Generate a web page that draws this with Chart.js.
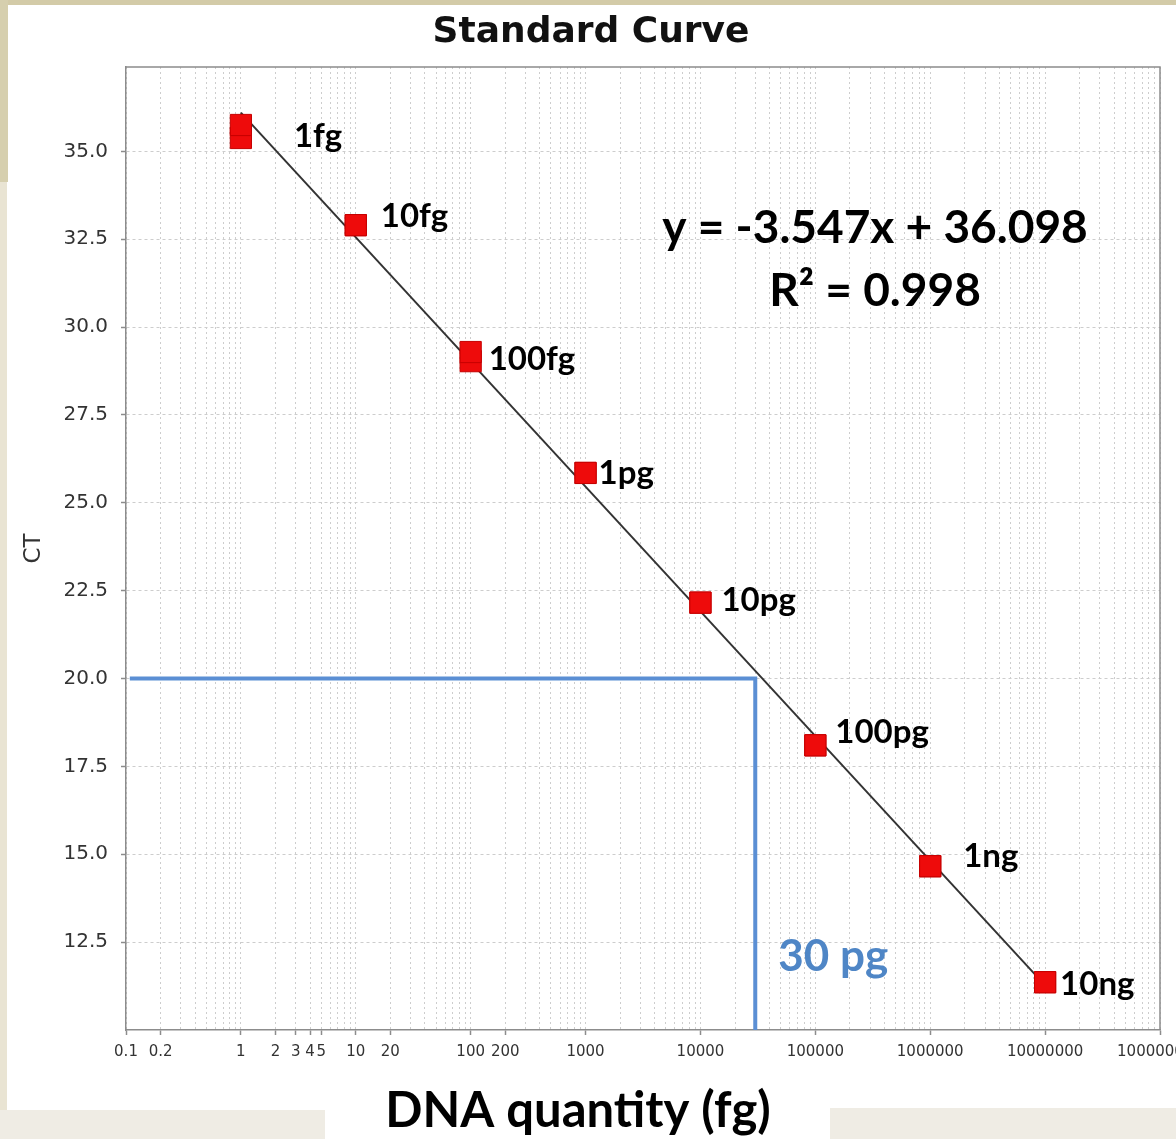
<!DOCTYPE html>
<html>
<head>
<meta charset="utf-8">
<title>Standard Curve</title>
<script src="https://cdn.jsdelivr.net/npm/chart.js@4.4.1/dist/chart.umd.min.js"></script>
<style>
    html, body { margin: 0; padding: 0; background: #fff; }
    #wrap { position: relative; width: 1176px; height: 1139px; overflow: hidden; background: #fff; }
    #wrap canvas { position: absolute; left: 0; top: 0; }
    .strip { position: absolute; pointer-events: none; }
</style>
</head>
<body>
<div id="wrap">
    <canvas id="standardCurveChart" width="1176" height="1139"></canvas>
    <div class="strip" style="left:0;top:0;width:1176px;height:5px;background:#d3cba8"></div>
    <div class="strip" style="left:0;top:0;width:8px;height:182px;background:#d6cfae"></div>
    <div class="strip" style="left:0;top:182px;width:7px;height:930px;background:#e9e4d3"></div>
    <div class="strip" style="left:0;top:1110px;width:325px;height:29px;background:#efece4"></div>
    <div class="strip" style="left:830px;top:1108px;width:346px;height:31px;background:#efece4"></div>
</div>
<script>
// DNA amount of each standard (fg) and its name
const standardQty = [1, 10, 100, 1000, 10000, 100000, 1000000, 10000000];
const standardNames = ["1fg", "10fg", "100fg", "1pg", "10pg", "100pg", "1ng", "10ng"];

// CT of the two replicates of every standard
const ctReplicateA = [35.75, 32.90, 29.29, 25.85, 22.16, 18.10, 14.66, 11.36];
const ctReplicateB = [35.38, 32.90, 29.03, 25.85, 22.16, 18.10, 14.66, 11.36];

// ends of the fitted line
const fitQty = [1, 10000000];
const fitCt = [36.10, 11.27];

// unknown sample
const unknownQty = 30000;
const unknownCt = 20.0;

// axes
const xMin = 0.1;
const xMax = 100000000;
const yMin = 10.0;
const yMax = 37.4;
const xTickLabels = [0.1, 0.2, 1, 2, 3, 4, 5, 10, 20, 100, 200, 1000, 10000,
    100000, 1000000, 10000000, 100000000];
const yTickValues = [12.5, 15.0, 17.5, 20.0, 22.5, 25.0, 27.5, 30.0, 32.5, 35.0];

// where each name sits next to its point (px)
const nameOffsets = [[53, 5], [25, -9], [18, 3], [13, 0], [21, -2], [20, -13], [33, -10], [15, 2]];

document.addEventListener("DOMContentLoaded", function () {
    const canvas = document.getElementById("standardCurveChart");

    // every 1..9 step of each decade gets a dotted grid line
    const minorValues = [];
    for (let e = -1; e <= 8; e++) {
        for (let m = 1; m <= 9; m++) {
            const v = parseFloat((m * Math.pow(10, e)).toPrecision(3));
            if (v >= xMin && v <= xMax) minorValues.push(v);
        }
    }

    const annotations = {
        id: "curveAnnotations",
        afterDatasetsDraw(chart) {
            const ctx = chart.ctx;
            const area = chart.chartArea;
            const xs = chart.scales.x;
            const ys = chart.scales.y;

            // top and right edge of the plot frame
            ctx.save();
            ctx.strokeStyle = "#8c8c8c";
            ctx.lineWidth = 1.5;
            ctx.beginPath();
            ctx.moveTo(area.left, area.top);
            ctx.lineTo(area.right, area.top);
            ctx.lineTo(area.right, area.bottom);
            ctx.stroke();

            // standard names
            ctx.font = "bold 33px Lato";
            ctx.fillStyle = "#000";
            ctx.textAlign = "left";
            ctx.textBaseline = "middle";
            standardNames.forEach((name, i) => {
                const px = xs.getPixelForValue(standardQty[i]);
                const py = ys.getPixelForValue((ctReplicateA[i] + ctReplicateB[i]) / 2);
                ctx.fillText(name, px + nameOffsets[i][0], py + nameOffsets[i][1]);
            });

            // regression equation
            ctx.font = "bold 46px Lato";
            ctx.textAlign = "center";
            ctx.fillText("y = -3.547x + 36.098", 875, 228);
            ctx.fillText("R\u00b2 = 0.998", 875, 291);

            // read-off value
            ctx.font = "bold 44px Lato";
            ctx.fillStyle = "#4f86c6";
            ctx.textAlign = "left";
            ctx.fillText("30 pg", xs.getPixelForValue(unknownQty) + 23, ys.getPixelForValue(12.07));
            ctx.restore();
        },
        afterDraw(chart) {
            const ctx = chart.ctx;
            ctx.save();
            ctx.font = "bold 49px Lato";
            ctx.fillStyle = "#000";
            ctx.textAlign = "center";
            ctx.textBaseline = "middle";
            ctx.fillText("DNA quantity (fg)", 578, 1111);
            ctx.restore();
        }
    };

    const standardStyle = {
        showLine: false,
        pointStyle: "rect",
        pointRadius: 15,
        pointHoverRadius: 15,
        pointBackgroundColor: "#ee0b0b",
        pointBorderColor: "#c60000",
        pointBorderWidth: 1,
        order: 1
    };

    new Chart(canvas, {
        type: "scatter",
        data: {
            datasets: [
                Object.assign({
                    label: "Replicate A",
                    data: standardQty.map((q, i) => ({ x: q, y: ctReplicateA[i] }))
                }, standardStyle),
                Object.assign({
                    label: "Replicate B",
                    data: standardQty.map((q, i) => ({ x: q, y: ctReplicateB[i] }))
                }, standardStyle),
                {
                    label: "Fit",
                    data: fitQty.map((q, i) => ({ x: q, y: fitCt[i] })),
                    showLine: true,
                    borderColor: "#333333",
                    borderWidth: 2,
                    pointRadius: 0,
                    order: 2
                },
                {
                    label: "Unknown",
                    data: [
                        { x: 0.108, y: unknownCt },
                        { x: unknownQty, y: unknownCt },
                        { x: unknownQty, y: yMin }
                    ],
                    showLine: true,
                    borderColor: "#5b8fd4",
                    borderWidth: 4,
                    borderJoinStyle: "miter",
                    pointRadius: 0,
                    order: 3
                }
            ]
        },
        options: {
            responsive: false,
            animation: false,
            devicePixelRatio: 1,
            layout: { padding: { left: 20, right: 14, top: 0, bottom: 0 } },
            plugins: {
                legend: { display: false },
                tooltip: { enabled: false },
                title: {
                    display: true,
                    text: "Standard Curve",
                    color: "#111",
                    font: { family: "DejaVu Sans", size: 36, weight: "bold" },
                    padding: { top: 11.4, bottom: 12.4 }
                }
            },
            scales: {
                x: {
                    type: "logarithmic",
                    min: xMin,
                    max: xMax,
                    afterBuildTicks: scale => {
                        scale.ticks = minorValues.map(v => ({ value: v }));
                    },
                    afterFit: scale => {
                        scale.height = 109;
                        scale.paddingLeft = 0;
                        scale.paddingRight = 0;
                    },
                    ticks: {
                        autoSkip: false,
                        maxRotation: 0,
                        minRotation: 0,
                        padding: 8,
                        color: "#333",
                        font: { family: "DejaVu Sans", size: 15 },
                        callback: value => xTickLabels.includes(value) ? String(value) : ""
                    },
                    grid: {
                        color: "#cdcdcd",
                        lineWidth: 1,
                        tickLength: 5,
                        tickWidth: 1.5,
                        tickColor: ctx => ctx.tick && xTickLabels.includes(ctx.tick.value)
                            ? "#8c8c8c" : "rgba(0,0,0,0)"
                    },
                    border: { color: "#8c8c8c", width: 1.5, dash: [2, 3] }
                },
                y: {
                    type: "linear",
                    min: yMin,
                    max: yMax,
                    afterBuildTicks: scale => {
                        scale.ticks = yTickValues.map(v => ({ value: v }));
                    },
                    afterFit: scale => {
                        scale.width = 106;
                    },
                    ticks: {
                        padding: 13,
                        color: "#333",
                        font: { family: "DejaVu Sans", size: 20 },
                        callback: value => value.toFixed(1)
                    },
                    grid: {
                        color: "#cdcdcd",
                        lineWidth: 1,
                        tickLength: 5,
                        tickWidth: 1.5,
                        tickColor: "#8c8c8c"
                    },
                    border: { color: "#8c8c8c", width: 1.5, dash: [3, 3] },
                    title: {
                        display: true,
                        text: "CT",
                        color: "#333",
                        font: { family: "DejaVu Sans", size: 23 },
                        padding: { top: 0, bottom: 0 }
                    }
                }
            }
        },
        plugins: [annotations]
    });
});
</script>
</body>
</html>
